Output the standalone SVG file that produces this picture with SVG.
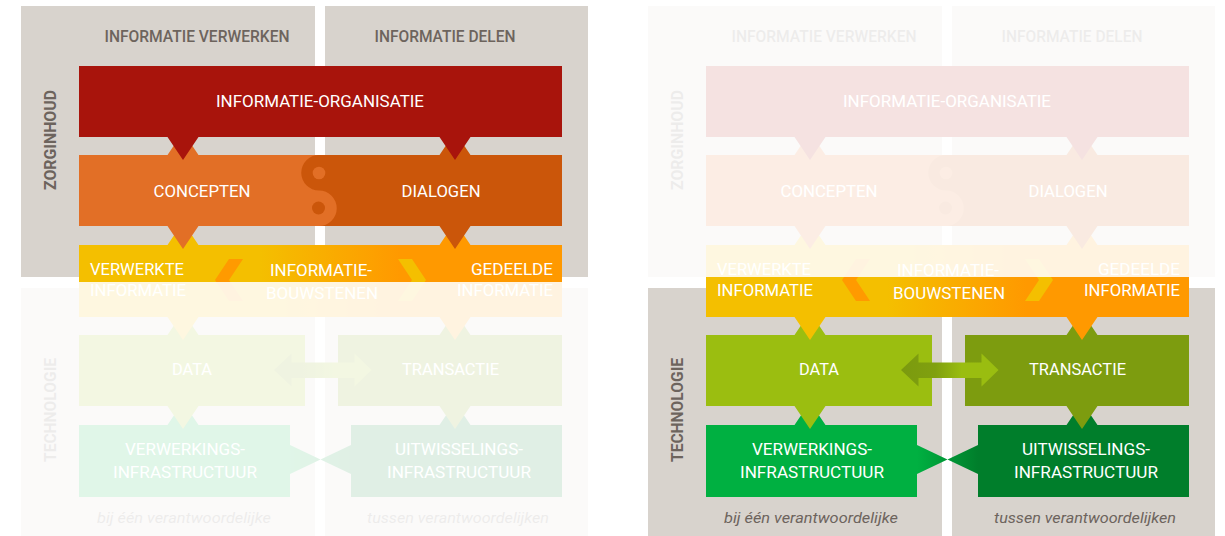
<svg xmlns="http://www.w3.org/2000/svg" width="1225" height="536" viewBox="0 0 1225 536">
<defs>
<style>
.bg{fill:#d8d3cd}
.hdr{font-family:Roboto,"Liberation Sans",sans-serif;font-size:16px;font-weight:500;fill:#6d645d}
.ax{font-family:Roboto,"Liberation Sans",sans-serif;font-size:16px;font-weight:700;fill:#6d645d}
.it{font-family:Roboto,"Liberation Sans",sans-serif;font-size:15px;font-style:italic;fill:#6d645d}
.lbl{font-family:Roboto,"Liberation Sans",sans-serif;font-size:17px;fill:#ffffff}
.red{fill:#a8140c}
.or1{fill:#e26f26}
.or2{fill:#cb560a}
.band{fill:url(#gBand)}
.chevL{fill:#ff9a00}
.chevR{fill:#f4bf00}
.g1{fill:#9bbe10}
.g2{fill:#7d9c0f}
.g3{fill:#00b041}
.g4{fill:#007e2b}
.fade{fill:#ffffff;fill-opacity:0.88}
</style>
<linearGradient id="gBand" gradientUnits="userSpaceOnUse" x1="260" y1="0" x2="400" y2="0">
<stop offset="0" stop-color="#f4bf00"/><stop offset="1" stop-color="#ff9900"/>
</linearGradient>
<linearGradient id="gArrow" gradientUnits="userSpaceOnUse" x1="274" y1="0" x2="372" y2="0">
<stop offset="0" stop-color="#7b9a0f"/><stop offset="0.35" stop-color="#80a00f"/><stop offset="0.62" stop-color="#9abd10"/><stop offset="1" stop-color="#9abd10"/>
</linearGradient>
<linearGradient id="gBow" gradientUnits="userSpaceOnUse" x1="290" y1="0" x2="351" y2="0">
<stop offset="0" stop-color="#00b041"/><stop offset="1" stop-color="#007e2b"/>
</linearGradient>
</defs>

<g id="panel-left">
 <g id="l-background">
  <rect class="bg" x="21" y="6" width="294" height="271"/>
  <rect class="bg" x="325" y="6" width="263" height="271"/>
  <rect class="bg" x="21" y="288" width="294" height="248"/>
  <rect class="bg" x="325" y="288" width="263" height="248"/>
 </g>
 <g id="l-verwerkings-infrastructuur">
  <path class="g3" d="M79 425H167.5L183 402L198.5 425H290V497H79Z"/>
  <text class="lbl" x="185" y="455" text-anchor="middle" textLength="120" lengthAdjust="spacingAndGlyphs">VERWERKINGS-</text>
  <text class="lbl" x="185" y="478" text-anchor="middle" textLength="144" lengthAdjust="spacingAndGlyphs">INFRASTRUCTUUR</text>
 </g>
 <g id="l-uitwisselings-infrastructuur">
  <path class="g4" d="M351 425H439.5L455 402L470.5 425H562V497H351Z"/>
  <text class="lbl" x="459" y="455" text-anchor="middle" textLength="128" lengthAdjust="spacingAndGlyphs">UITWISSELINGS-</text>
  <text class="lbl" x="459" y="478" text-anchor="middle" textLength="144" lengthAdjust="spacingAndGlyphs">INFRASTRUCTUUR</text>
 </g>
 <g id="l-data">
  <path class="g1" d="M79 335H167.5L183 312L198.5 335H305V406H198.5L183 429L167.5 406H79Z"/>
  <text class="lbl" x="192" y="375" text-anchor="middle" textLength="40" lengthAdjust="spacingAndGlyphs">DATA</text>
 </g>
 <g id="l-transactie">
  <path class="g2" d="M338 335H439.5L455 312L470.5 335H562V406H470.5L455 429L439.5 406H338Z"/>
  <text class="lbl" x="450.5" y="375" text-anchor="middle" textLength="97" lengthAdjust="spacingAndGlyphs">TRANSACTIE</text>
 </g>
 <g id="l-informatiebouwstenen">
  <path class="band" d="M79 245H167.5L183 222L198.5 245H439.5L455 222L470.5 245H562V317H470.5L455 340L439.5 317H198.5L183 340L167.5 317H79Z"/>
  <polygon class="chevL" points="229,259 243,259 229,280 243,301 229,301 215,280"/>
  <polygon class="chevR" points="398,259 412,259 426,280 412,301 398,301 412,280"/>
  <text class="lbl" x="90" y="275" textLength="94" lengthAdjust="spacingAndGlyphs">VERWERKTE</text>
  <text class="lbl" x="90" y="296" textLength="96" lengthAdjust="spacingAndGlyphs">INFORMATIE</text>
  <text class="lbl" x="321" y="276" text-anchor="middle" textLength="102" lengthAdjust="spacingAndGlyphs">INFORMATIE-</text>
  <text class="lbl" x="322" y="299" text-anchor="middle" textLength="112" lengthAdjust="spacingAndGlyphs">BOUWSTENEN</text>
  <text class="lbl" x="553" y="275" text-anchor="end" textLength="82" lengthAdjust="spacingAndGlyphs">GEDEELDE</text>
  <text class="lbl" x="553" y="296" text-anchor="end" textLength="96" lengthAdjust="spacingAndGlyphs">INFORMATIE</text>
 </g>
 <g id="l-concepten-dialogen">
  <path class="or2" d="M79 155H439.5L455 132L470.5 155H562V226H470.5L455 249L439.5 226H79Z"/>
  <path class="or1" d="M79 155H167.5L183 132L198.5 155H319A17.75 17.75 0 0 0 319 190.5A17.75 17.75 0 0 1 319 226H198.5L183 249L167.5 226H79Z"/>
  <circle class="or1" cx="319" cy="173" r="6.3"/>
  <circle class="or2" cx="318.5" cy="208" r="6.5"/>
  <text class="lbl" x="202" y="197" text-anchor="middle" textLength="97" lengthAdjust="spacingAndGlyphs">CONCEPTEN</text>
  <text class="lbl" x="441" y="197" text-anchor="middle" textLength="79" lengthAdjust="spacingAndGlyphs">DIALOGEN</text>
 </g>
 <g id="l-informatie-organisatie">
  <path class="red" d="M79 66H562V137H470.5L455 160L439.5 137H198.5L183 160L167.5 137H79Z"/>
  <text class="lbl" x="320" y="107" text-anchor="middle" textLength="208" lengthAdjust="spacingAndGlyphs">INFORMATIE-ORGANISATIE</text>
 </g>
 <g id="l-connectors">
  <polygon fill="url(#gArrow)" points="274,370 291.5,353.5 291.5,362.5 354.5,362.5 354.5,353.5 371.5,370 354.5,386.5 354.5,378 291.5,378 291.5,386.5"/>
  <polygon fill="url(#gBow)" points="290,445 320.5,459.5 290,474"/>
  <polygon fill="url(#gBow)" points="351,445 320.5,459.5 351,474"/>
 </g>
 <g id="l-axis-labels">
  <text class="hdr" x="197" y="42" text-anchor="middle" textLength="185" lengthAdjust="spacingAndGlyphs">INFORMATIE VERWERKEN</text>
  <text class="hdr" x="445" y="42" text-anchor="middle" textLength="141" lengthAdjust="spacingAndGlyphs">INFORMATIE DELEN</text>
  <text class="ax" transform="rotate(-90)" x="-140" y="56" text-anchor="middle" textLength="100" lengthAdjust="spacingAndGlyphs">ZORGINHOUD</text>
  <text class="ax" transform="rotate(-90)" x="-410" y="56" text-anchor="middle" textLength="104" lengthAdjust="spacingAndGlyphs">TECHNOLOGIE</text>
  <text class="it" x="184" y="523" text-anchor="middle" textLength="174" lengthAdjust="spacingAndGlyphs">bij één verantwoordelijke</text>
  <text class="it" x="458" y="523" text-anchor="middle" textLength="182" lengthAdjust="spacingAndGlyphs">tussen verantwoordelijken</text>
 </g>
</g>

<g id="panel-right" transform="translate(627,0)">
 <g id="r-background">
  <rect class="bg" x="21" y="6" width="294" height="271"/>
  <rect class="bg" x="325" y="6" width="263" height="271"/>
  <rect class="bg" x="21" y="288" width="294" height="248"/>
  <rect class="bg" x="325" y="288" width="263" height="248"/>
 </g>
 <g id="r-verwerkings-infrastructuur">
  <path class="g3" d="M79 425H167.5L183 402L198.5 425H290V497H79Z"/>
  <text class="lbl" x="185" y="455" text-anchor="middle" textLength="120" lengthAdjust="spacingAndGlyphs">VERWERKINGS-</text>
  <text class="lbl" x="185" y="478" text-anchor="middle" textLength="144" lengthAdjust="spacingAndGlyphs">INFRASTRUCTUUR</text>
 </g>
 <g id="r-uitwisselings-infrastructuur">
  <path class="g4" d="M351 425H439.5L455 402L470.5 425H562V497H351Z"/>
  <text class="lbl" x="459" y="455" text-anchor="middle" textLength="128" lengthAdjust="spacingAndGlyphs">UITWISSELINGS-</text>
  <text class="lbl" x="459" y="478" text-anchor="middle" textLength="144" lengthAdjust="spacingAndGlyphs">INFRASTRUCTUUR</text>
 </g>
 <g id="r-data">
  <path class="g1" d="M79 335H167.5L183 312L198.5 335H305V406H198.5L183 429L167.5 406H79Z"/>
  <text class="lbl" x="192" y="375" text-anchor="middle" textLength="40" lengthAdjust="spacingAndGlyphs">DATA</text>
 </g>
 <g id="r-transactie">
  <path class="g2" d="M338 335H439.5L455 312L470.5 335H562V406H470.5L455 429L439.5 406H338Z"/>
  <text class="lbl" x="450.5" y="375" text-anchor="middle" textLength="97" lengthAdjust="spacingAndGlyphs">TRANSACTIE</text>
 </g>
 <g id="r-informatiebouwstenen">
  <path class="band" d="M79 245H167.5L183 222L198.5 245H439.5L455 222L470.5 245H562V317H470.5L455 340L439.5 317H198.5L183 340L167.5 317H79Z"/>
  <polygon class="chevL" points="229,259 243,259 229,280 243,301 229,301 215,280"/>
  <polygon class="chevR" points="398,259 412,259 426,280 412,301 398,301 412,280"/>
  <text class="lbl" x="90" y="275" textLength="94" lengthAdjust="spacingAndGlyphs">VERWERKTE</text>
  <text class="lbl" x="90" y="296" textLength="96" lengthAdjust="spacingAndGlyphs">INFORMATIE</text>
  <text class="lbl" x="321" y="276" text-anchor="middle" textLength="102" lengthAdjust="spacingAndGlyphs">INFORMATIE-</text>
  <text class="lbl" x="322" y="299" text-anchor="middle" textLength="112" lengthAdjust="spacingAndGlyphs">BOUWSTENEN</text>
  <text class="lbl" x="553" y="275" text-anchor="end" textLength="82" lengthAdjust="spacingAndGlyphs">GEDEELDE</text>
  <text class="lbl" x="553" y="296" text-anchor="end" textLength="96" lengthAdjust="spacingAndGlyphs">INFORMATIE</text>
 </g>
 <g id="r-concepten-dialogen">
  <path class="or2" d="M79 155H439.5L455 132L470.5 155H562V226H470.5L455 249L439.5 226H79Z"/>
  <path class="or1" d="M79 155H167.5L183 132L198.5 155H319A17.75 17.75 0 0 0 319 190.5A17.75 17.75 0 0 1 319 226H198.5L183 249L167.5 226H79Z"/>
  <circle class="or1" cx="319" cy="173" r="6.3"/>
  <circle class="or2" cx="318.5" cy="208" r="6.5"/>
  <text class="lbl" x="202" y="197" text-anchor="middle" textLength="97" lengthAdjust="spacingAndGlyphs">CONCEPTEN</text>
  <text class="lbl" x="441" y="197" text-anchor="middle" textLength="79" lengthAdjust="spacingAndGlyphs">DIALOGEN</text>
 </g>
 <g id="r-informatie-organisatie">
  <path class="red" d="M79 66H562V137H470.5L455 160L439.5 137H198.5L183 160L167.5 137H79Z"/>
  <text class="lbl" x="320" y="107" text-anchor="middle" textLength="208" lengthAdjust="spacingAndGlyphs">INFORMATIE-ORGANISATIE</text>
 </g>
 <g id="r-connectors">
  <polygon fill="url(#gArrow)" points="274,370 291.5,353.5 291.5,362.5 354.5,362.5 354.5,353.5 371.5,370 354.5,386.5 354.5,378 291.5,378 291.5,386.5"/>
  <polygon fill="url(#gBow)" points="290,445 320.5,459.5 290,474"/>
  <polygon fill="url(#gBow)" points="351,445 320.5,459.5 351,474"/>
 </g>
 <g id="r-axis-labels">
  <text class="hdr" x="197" y="42" text-anchor="middle" textLength="185" lengthAdjust="spacingAndGlyphs">INFORMATIE VERWERKEN</text>
  <text class="hdr" x="445" y="42" text-anchor="middle" textLength="141" lengthAdjust="spacingAndGlyphs">INFORMATIE DELEN</text>
  <text class="ax" transform="rotate(-90)" x="-140" y="56" text-anchor="middle" textLength="100" lengthAdjust="spacingAndGlyphs">ZORGINHOUD</text>
  <text class="ax" transform="rotate(-90)" x="-410" y="56" text-anchor="middle" textLength="104" lengthAdjust="spacingAndGlyphs">TECHNOLOGIE</text>
  <text class="it" x="184" y="523" text-anchor="middle" textLength="174" lengthAdjust="spacingAndGlyphs">bij één verantwoordelijke</text>
  <text class="it" x="458" y="523" text-anchor="middle" textLength="182" lengthAdjust="spacingAndGlyphs">tussen verantwoordelijken</text>
 </g>
</g>

<g id="fade-overlays">
 <rect class="fade" x="0" y="282" width="612" height="254"/>
 <rect class="fade" x="612" y="0" width="613" height="277"/>
</g>
</svg>
